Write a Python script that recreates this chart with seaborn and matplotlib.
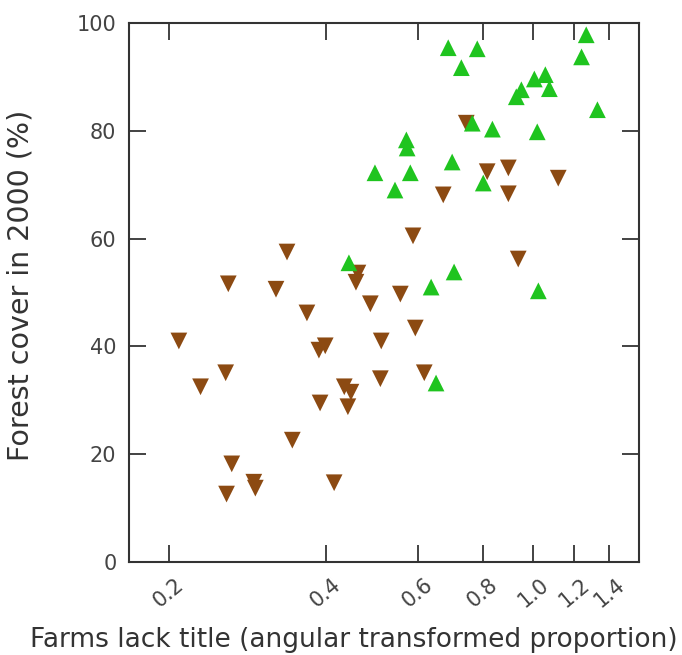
import numpy as np
import pandas as pd
import seaborn as sns
import matplotlib.pyplot as plt
from matplotlib.ticker import FixedLocator, NullLocator

# green points (upward markers)
green_x = [0.687, 0.781, 0.728, 1.264, 1.238, 1.005, 1.055, 1.074, 0.949, 0.928,
           1.328, 0.764, 0.835, 1.018, 0.571, 0.573, 0.699, 0.497, 0.581, 0.543,
           0.802, 0.443, 0.705, 0.637, 1.023, 0.651]
green_y = [95.4, 95.2, 91.7, 97.8, 93.7, 89.6, 90.4, 87.8, 87.6, 86.3,
           83.9, 81.4, 80.3, 79.8, 78.3, 76.8, 74.2, 72.2, 72.2, 69.0,
           70.3, 55.5, 53.8, 51.0, 50.3, 33.2]

# brown points (downward markers)
brown_x = [0.744, 0.816, 0.896, 1.117, 0.672, 0.896, 0.588, 0.337, 0.936, 0.260,
           0.321, 0.461, 0.457, 0.556, 0.487, 0.368, 0.594, 0.209, 0.399, 0.388,
           0.511, 0.257, 0.230, 0.618, 0.509, 0.434, 0.447, 0.390, 0.441, 0.345,
           0.264, 0.291, 0.293, 0.258, 0.415]
brown_y = [81.4, 72.4, 73.1, 71.2, 68.1, 68.3, 60.5, 57.5, 56.2, 51.6,
           50.6, 53.6, 51.9, 49.7, 47.9, 46.2, 43.4, 41.0, 40.1, 39.3,
           41.0, 35.1, 32.5, 35.1, 34.0, 32.5, 31.5, 29.5, 28.8, 22.6,
           18.2, 14.8, 13.7, 12.6, 14.7]

x_ticks = [0.2, 0.4, 0.6, 0.8, 1.0, 1.2, 1.4]
y_ticks = [0, 20, 40, 60, 80, 100]

df = pd.DataFrame({
    'lack_title': brown_x + green_x,
    'forest': brown_y + green_y,
    'group': ['brown'] * len(brown_x) + ['green'] * len(green_x),
})

sns.set_style('ticks')
plt.rcParams['font.family'] = ['DejaVu Sans']

fig = plt.figure(figsize=(6.82, 6.55), dpi=100)
ax = fig.add_axes([0.189, 0.142, 0.748, 0.823])

ax.set_xscale('log')
sns.scatterplot(data=df, x='lack_title', y='forest', hue='group', style='group',
                palette={'brown': '#8c4a12', 'green': '#1fc41f'},
                markers={'brown': 'v', 'green': '^'},
                s=145, linewidth=0, legend=False, ax=ax)

ax.set_xlim(0.1676, 1.596)
ax.set_ylim(0, 100)
ax.xaxis.set_major_locator(FixedLocator(x_ticks))
ax.xaxis.set_minor_locator(NullLocator())
ax.set_xticklabels([f'{t:.1f}' for t in x_ticks], rotation=40, ha='center')
ax.set_yticks(y_ticks)

ax.tick_params(axis='both', which='major', direction='in', length=12, width=1.2,
               top=True, right=True, labelsize=15, labelcolor='#444444', pad=9,
               color='#222222')
for sp in ax.spines.values():
    sp.set_color('#333333')
    sp.set_linewidth(1.5)

ax.set_xlabel('Farms lack title (angular transformed proportion)', fontsize=19, color='#333333')
ax.set_ylabel('Forest cover in 2000 (%)', fontsize=20.5, color='#333333')
ax.xaxis.set_label_coords(0.441, -0.12)
ax.yaxis.set_label_coords(-0.185, 0.514)

fig.savefig('out.png', dpi=100)
